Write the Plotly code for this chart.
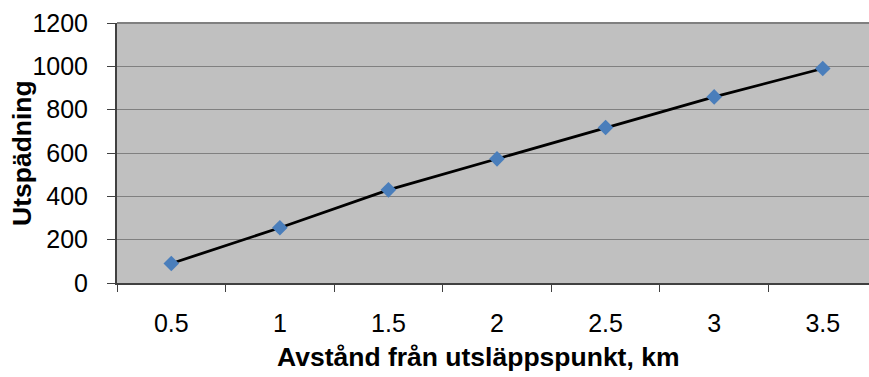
import plotly.graph_objects as go

# Distance from the discharge point (km) and dilution factor
avstand = ["0.5", "1", "1.5", "2", "2.5", "3", "3.5"]
utspadning = [90, 255, 430, 573, 718, 859, 990]

y_ticks = [0, 200, 400, 600, 800, 1000, 1200]

fig = go.Figure()
fig.add_trace(go.Scatter(
    x=avstand,
    y=utspadning,
    mode="lines+markers",
    line=dict(color="#000000", width=2.8),
    marker=dict(symbol="diamond", size=12, color="#4A7EBB",
                line=dict(width=0)),
    showlegend=False,
    cliponaxis=False,
))

font_family = "Liberation Sans, Arial, sans-serif"

fig.update_layout(
    width=869,
    height=377,
    margin=dict(l=117, r=0, t=23, b=94),
    paper_bgcolor="#FFFFFF",
    plot_bgcolor="#C0C0C0",
    font=dict(family=font_family, size=25, color="#000000"),
    xaxis=dict(
        type="category",
        range=[-0.5, 6.426],
        showgrid=False,
        showline=True,
        linecolor="#404040",
        linewidth=2,
        ticks="outside",
        tickson="boundaries",
        ticklen=7,
        tickwidth=1,
        tickcolor="#404040",
        ticklabelstandoff=17,
        tickfont=dict(size=25),
        zeroline=False,
    ),
    yaxis=dict(
        range=[0, 1200],
        tickvals=y_ticks,
        ticktext=[str(v) for v in y_ticks],
        showgrid=True,
        gridcolor="#808080",
        gridwidth=1,
        showline=True,
        linecolor="#404040",
        linewidth=2,
        ticks="outside",
        ticklen=8,
        tickwidth=1,
        tickcolor="#404040",
        ticklabelstandoff=14,
        tickfont=dict(size=25),
        zeroline=False,
    ),
    annotations=[
        dict(
            text="<b>Avstånd från utsläppspunkt, km</b>",
            xref="paper", yref="paper",
            x=(478 - 117) / 752, y=-(358 - 283.5) / 260,
            xanchor="center", yanchor="middle",
            showarrow=False,
            font=dict(size=26.5, family=font_family, color="#000000"),
        ),
        dict(
            text="<b>Utspädning</b>",
            xref="paper", yref="paper",
            x=-(117 - 22) / 752, y=0.5,
            xanchor="center", yanchor="middle",
            textangle=-90,
            showarrow=False,
            font=dict(size=26.5, family=font_family, color="#000000"),
        ),
    ],
    shapes=[
        dict(type="line", xref="paper", yref="paper",
             x0=0, x1=1, y0=1, y1=1,
             line=dict(color="#808080", width=2)),
    ],
)

fig.write_html("out.html")
